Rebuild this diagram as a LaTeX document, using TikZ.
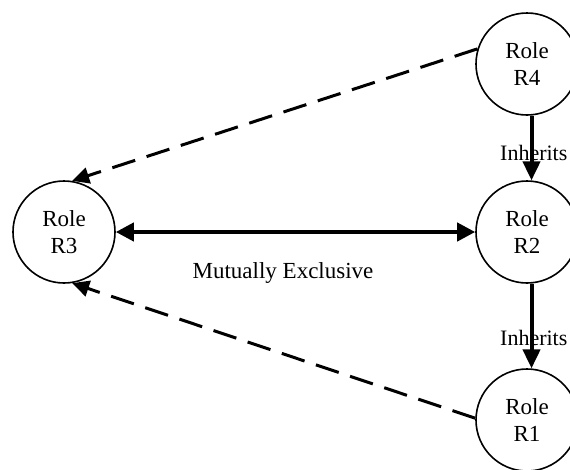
\documentclass[tikz,border=0pt]{standalone}
\usepackage{fontspec}
\setmainfont{Liberation Serif}
\usetikzlibrary{arrows.meta}
\tikzset{
  role/.style={circle, draw, line width=1.6pt, minimum size=102pt, inner sep=0pt,
    align=center, font=\fontsize{23}{27}\selectfont},
  lbl/.style={font=\fontsize{22}{26}\selectfont, inner sep=0pt},
  inherit/.style={line width=4pt, -{Triangle[length=19pt,width=17pt]}},
  excl/.style={line width=4pt, {Triangle[length=18pt,width=18pt]}-{Triangle[length=18pt,width=18pt]}},
  assoc/.style={line width=3pt, dash pattern=on 24pt off 12pt, -{Triangle[length=17pt,width=16pt]}}
}
\begin{document}
\begin{tikzpicture}[x=1pt, y=-1pt]
  \useasboundingbox (0,0) rectangle (570,469);
  \clip (0,0) rectangle (570,469);
  \fill[white] (0,0) rectangle (570,469);

  % roles
  \node[role] (R4) at (527,64)  {Role\\R4};
  \node[role] (R2) at (527,232) {Role\\R2};
  \node[role] (R1) at (527,420) {Role\\R1};
  \node[role] (R3) at (64,232)  {Role\\R3};

  % labels
  \node[lbl, anchor=base west] (inh1) at (500,160) {Inherits};
  \node[lbl, anchor=base west] (inh2) at (500,345) {Inherits};
  \node[font=\fontsize{23}{27}\selectfont, inner sep=0pt, anchor=base] (mx) at (283,278) {Mutually Exclusive};

  % inheritance
  \draw[inherit] (R4.-85) -- (R2.85);
  \draw[inherit] (R2.-85) -- (R1.85);

  % mutual exclusion
  \draw[excl] (R3.east) -- (R2.west);

  % dashed associations
  \draw[assoc] (R4.163) -- (R3.81);
  \draw[assoc] (R1.178) -- (R3.-81);
\end{tikzpicture}
\end{document}
